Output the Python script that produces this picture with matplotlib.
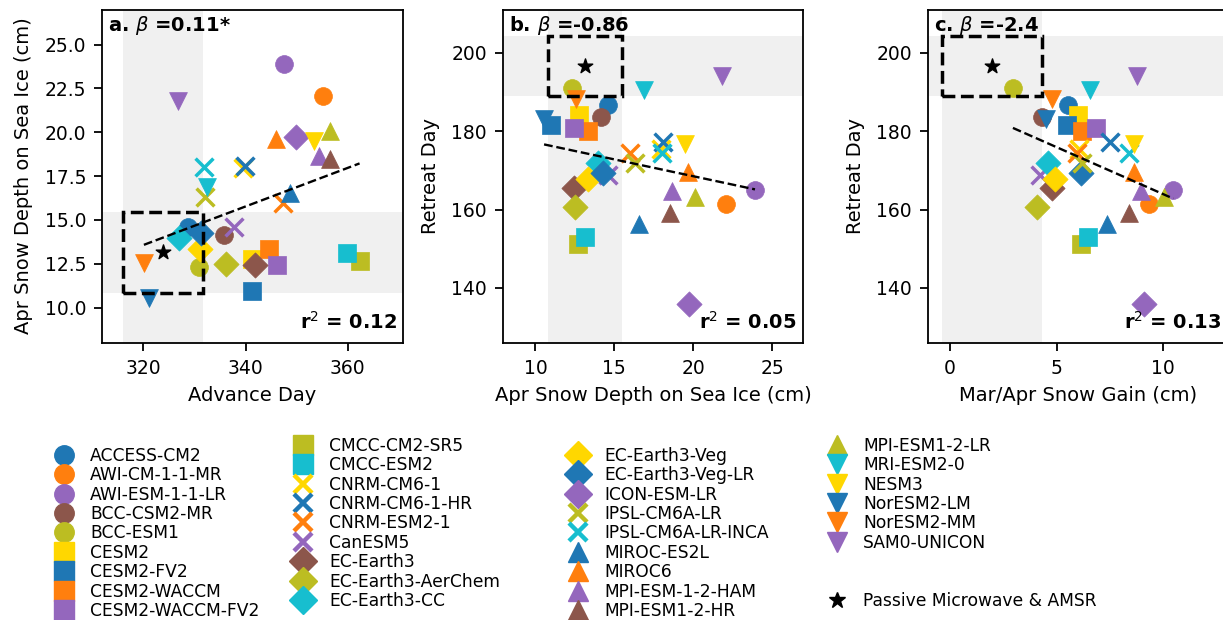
import numpy as np
import matplotlib
matplotlib.use("Agg")
import matplotlib.pyplot as plt
from matplotlib.lines import Line2D
from matplotlib.patches import Rectangle

plt.rcParams['font.family'] = ['DejaVu Sans']
plt.rcParams['axes.linewidth'] = 1.3

# CMIP6 models, plotting order
models = ["ACCESS-CM2", "AWI-CM-1-1-MR", "AWI-ESM-1-1-LR", "BCC-CSM2-MR", "BCC-ESM1",
          "CESM2", "CESM2-FV2", "CESM2-WACCM", "CESM2-WACCM-FV2",
          "CMCC-CM2-SR5", "CMCC-ESM2", "CNRM-CM6-1", "CNRM-CM6-1-HR", "CNRM-ESM2-1",
          "CanESM5", "EC-Earth3", "EC-Earth3-AerChem", "EC-Earth3-CC",
          "EC-Earth3-Veg", "EC-Earth3-Veg-LR", "ICON-ESM-LR", "IPSL-CM6A-LR",
          "IPSL-CM6A-LR-INCA", "MIROC-ES2L", "MIROC6", "MPI-ESM-1-2-HAM", "MPI-ESM1-2-HR",
          "MPI-ESM1-2-LR", "MRI-ESM2-0", "NESM3", "NorESM2-LM", "NorESM2-MM", "SAM0-UNICON"]

markers = ["o"] * 5 + ["s"] * 6 + ["x"] * 4 + ["D"] * 6 + ["x"] * 2 + ["^"] * 5 + ["v"] * 5

blue, orange, purple, brown = "#1f77b4", "#ff7f0e", "#9467bd", "#8c564b"
olive, cyan, gold = "#bcbd22", "#17becf", "#ffd700"
colors = [blue, orange, purple, brown, olive,
          gold, blue, orange, purple, olive, cyan,
          gold, blue, orange, purple,
          brown, olive, cyan, gold, blue, purple,
          olive, cyan,
          blue, orange, purple, brown, olive,
          cyan, gold, blue, orange, purple]

# sea ice advance day
advance_day = [328.8, 355.1, 347.6, 335.7, 330.8, 341.2, 341.3, 344.5, 346.1,
               362.3, 359.8, 339.4, 339.9, 347.3, 337.8, 341.8, 336.2, 327.0,
               331.0, 331.3, 349.9, 332.1, 331.8, 348.6, 346.0, 354.4, 356.5,
               356.5, 332.4, 353.4, 321.0, 320.1, 326.7]

# April snow depth on sea ice (cm)
snow_depth = [14.6, 22.05, 23.9, 14.15, 12.3, 12.75, 10.97, 13.33, 12.44,
              12.68, 13.13, 17.95, 18.1, 15.98, 14.57, 12.43, 12.48, 13.95,
              13.35, 14.25, 19.73, 16.33, 18.03, 16.55, 19.64, 18.67, 18.5,
              20.08, 16.9, 19.5, 10.55, 12.55, 21.8]

# sea ice retreat day
retreat_day = [186.8, 161.4, 164.9, 183.7, 190.9, 184.1, 181.5, 180.0, 180.9,
               151.1, 152.9, 175.5, 177.3, 174.3, 168.8, 165.5, 160.7, 171.9,
               167.7, 169.2, 136.0, 172.0, 174.5, 156.4, 169.6, 164.8, 159.0,
               163.1, 190.5, 176.7, 183.2, 188.2, 194.0]

# March/April snow gain (cm)
snow_gain = [5.55, 9.33, 10.47, 4.30, 2.95, 6.02, 5.47, 6.17, 6.83,
             6.16, 6.47, 6.05, 7.5, 5.97, 4.22, 4.77, 4.06, 4.59,
             4.92, 6.16, 9.09, 6.2, 8.39, 7.38, 8.63, 8.97, 8.39,
             10.03, 6.56, 8.63, 4.48, 4.8, 8.75]

# observed ranges (Passive Microwave & AMSR)
obs_advance = [316.0, 331.7]
obs_snow = [10.81, 15.48]
obs_retreat = [189.0, 204.3]
obs_gain = [-0.36, 4.33]

panel_labels = ["a.", "b.", "c."]
betas = ["0.11*", "-0.86", "-2.4"]
beta_vals = [0.11, -0.86, -2.4]
r2_vals = ["0.12", "0.05", "0.13"]

fig = plt.figure(figsize=(12.23, 6.2), dpi=100)
W, H = 1223, 620
boxes = [(102, 301), (503, 300), (928, 300)]
axes = [fig.add_axes([l / W, (620 - 342.7) / H, w / W, 333.2 / H]) for l, w in boxes]

panels = [
    (advance_day, snow_depth, obs_advance, obs_snow, "Advance Day", "Apr Snow Depth on Sea Ice (cm)"),
    (snow_depth, retreat_day, obs_snow, obs_retreat, "Apr Snow Depth on Sea Ice (cm)", "Retreat Day"),
    (snow_gain, retreat_day, obs_gain, obs_retreat, "Mar/Apr Snow Gain (cm)", "Retreat Day"),
]
xlims = [(311.9, 370.8), (7.95, 26.94), (-1.03, 13.03)]
ylims = [(8.0, 27.0), (126.0, 211.06), (126.0, 211.06)]
xticks = [[320, 340, 360], [10, 15, 20, 25], [0, 5, 10]]
yticks = [[10.0, 12.5, 15.0, 17.5, 20.0, 22.5, 25.0], [140, 160, 180, 200], [140, 160, 180, 200]]

for i, ax in enumerate(axes):
    xs, ys, ox, oy, xl, yl = panels[i]
    xs = np.array(xs)
    ys = np.array(ys)

    # observed range shading
    ax.axvspan(ox[0], ox[1], color="#f0f0f0", lw=0, zorder=0)
    ax.axhspan(oy[0], oy[1], color="#f0f0f0", lw=0, zorder=0)

    for x, y, m, c in zip(xs, ys, markers, colors):
        if m == "x":
            ax.scatter(x, y, marker=m, color=c, s=165, linewidths=2.5, zorder=2)
        else:
            ax.scatter(x, y, marker=m, color=c, s=165, edgecolors="face", linewidths=0.5, zorder=2)

    # regression line through the ensemble mean
    xx = np.array([xs.min(), xs.max()])
    ax.plot(xx, ys.mean() + beta_vals[i] * (xx - xs.mean()), "k--", lw=1.7, zorder=3)

    ax.add_patch(Rectangle((ox[0], oy[0]), ox[1] - ox[0], oy[1] - oy[0], fill=False,
                           ec="k", ls="--", lw=2.5, zorder=4))
    ax.scatter(np.mean(ox), np.mean(oy), marker="*", color="k", s=120, zorder=5)

    ax.set_xlim(xlims[i])
    ax.set_ylim(ylims[i])
    ax.set_xticks(xticks[i])
    ax.set_yticks(yticks[i])
    if i == 0:
        ax.set_yticklabels([f"{t:.1f}" for t in yticks[i]])
    ax.tick_params(labelsize=13.5, width=1.3, length=6, pad=5.5)
    ax.set_xlabel(xl, fontsize=14, labelpad=6)
    ax.set_ylabel(yl, fontsize=14, labelpad=8)

    ax.text(0.02, 0.985, panel_labels[i] + r" $\beta$ =" + betas[i], transform=ax.transAxes,
            ha="left", va="top", fontsize=14, fontweight="bold")
    ax.text(0.98, 0.03, r"r$^2$ = " + r2_vals[i], transform=ax.transAxes,
            ha="right", va="bottom", fontsize=14, fontweight="bold")

# legend, four columns
handles = []
for name, m, c in zip(models, markers, colors):
    if m == "x":
        handles.append(Line2D([], [], ls="none", marker=m, color=c, ms=13, mew=3.2, label=name))
    else:
        handles.append(Line2D([], [], ls="none", marker=m, color=c, ms=14, label=name))
blank = Line2D([], [], ls="none", label=" ")
star = Line2D([], [], ls="none", marker="*", color="k", ms=12, label="Passive Microwave & AMSR")

columns = [handles[0:9], handles[9:18], handles[18:27], handles[27:33] + [blank, blank, star]]
col_left = [54, 293, 568, 827]
col_top = [447, 437, 447, 437]
for hs, lx, ty in zip(columns, col_left, col_top):
    fig.legend(handles=hs, loc="upper left", bbox_to_anchor=(lx / W, (H - ty) / H),
               frameon=False, fontsize=12.3, borderpad=0, borderaxespad=0,
               handlelength=1.2, handletextpad=0.92, labelspacing=0.08)

fig.savefig("out.png", dpi=100)
